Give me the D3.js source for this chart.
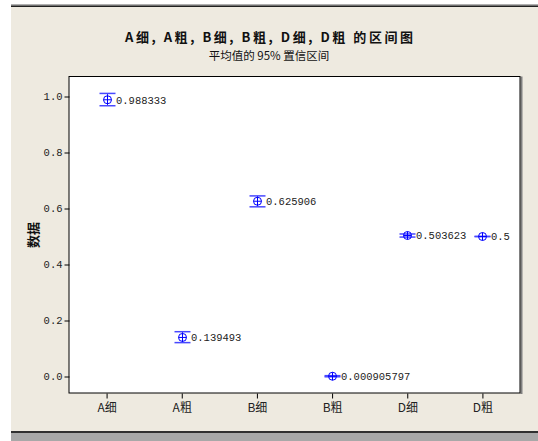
<!DOCTYPE html>
<html><head><meta charset="utf-8">
<script src="https://cdn.jsdelivr.net/npm/d3@7"></script>
<style>body{margin:0;background:#fff}svg{display:block}</style>
</head><body>
<script>
const categories = ["A细","A粗","B细","B粗","D细","D粗"];
const means = [0.988333, 0.139493, 0.625906, 0.000905797, 0.503623, 0.5];
const lower = [0.967, 0.121, 0.606, -0.001, 0.498, 0.5];
const upper = [1.011, 0.160, 0.645, 0.003, 0.509, 0.5];
const meanLabels = ["0.988333","0.139493","0.625906","0.000905797","0.503623","0.5"];
const yTicks = [0.0, 0.2, 0.4, 0.6, 0.8, 1.0];
const title = "A细, A粗, B细, B粗, D细, D粗 的区间图";
const subtitle = "平均值的 95% 置信区间";
const yLabel = "数据";

const W = 538, H = 441;
const svg = d3.select("body").append("svg").attr("width", W).attr("height", H);
svg.append("rect").attr("x",0).attr("y",0).attr("width",W).attr("height",H).attr("fill","#fff");
svg.append("rect").attr("x",11).attr("y",5).attr("width",W-11).attr("height",428).attr("fill","#EEEAE0");
svg.append("rect").attr("x",11).attr("y",4).attr("width",W-11).attr("height",1).attr("fill","#b0b0b0");
svg.append("rect").attr("x",11).attr("y",5).attr("width",W-11).attr("height",1).attr("fill","#707070");
svg.append("rect").attr("x",11).attr("y",6).attr("width",W-11).attr("height",1).attr("fill","#202020");
svg.append("rect").attr("x",11).attr("y",431).attr("width",W-11).attr("height",2).attr("fill","#303030");
svg.append("rect").attr("x",11).attr("y",433).attr("width",W-11).attr("height",8).attr("fill","#A8A8A8");

const L = 69, R = 520, T = 76.5, B = 393;
const x = d3.scaleLinear().domain([0.5, 6.5]).range([L, R]);
const y = d3.scaleLinear().domain([0, 1]).range([376.5, 96.5]);

svg.append("rect").attr("x",L).attr("y",T).attr("width",R-L).attr("height",B-T).attr("fill","#fff");
svg.append("rect").attr("x",R+0.5).attr("y",T).attr("width",2).attr("height",B-T+1).attr("fill","#808080");
svg.append("rect").attr("x",L).attr("y",T).attr("width",R-L).attr("height",B-T)
  .attr("fill","none").attr("stroke","#000").attr("stroke-width",1);

const monoFont = "'Liberation Mono','DejaVu Sans Mono',monospace";
const cjk = "'Noto Sans CJK SC','Noto Sans',sans-serif";

const yAxis = d3.axisLeft(y).tickValues(yTicks).tickFormat(d3.format(".1f")).tickSize(5).tickPadding(2);
const gy = svg.append("g").attr("transform",`translate(${L+0.5},0)`).call(yAxis);
gy.select(".domain").remove();
gy.selectAll("text").attr("font-family",monoFont).attr("font-size","10.5px").attr("fill","#222");
gy.selectAll("line").attr("stroke","#000");

const xAxis = d3.axisBottom(x).tickValues(d3.range(1,7)).tickFormat(i => categories[i-1]).tickSize(5).tickPadding(5);
const gx = svg.append("g").attr("transform",`translate(0,${B+0.5})`).call(xAxis);
gx.select(".domain").remove();
gx.selectAll("text").attr("font-family",cjk).attr("font-size","12px").attr("fill","#222");
gx.selectAll("line").attr("stroke","#000");

const data = categories.map((c,i)=>({i:i+1, m:means[i], lo:lower[i], hi:upper[i], lab:meanLabels[i]}));
const g = svg.append("g");
const capW = 8;
data.forEach(d=>{
  const cx = Math.round(x(d.i))+0.5;
  const yl = y(d.lo), yh = y(d.hi), ym = y(d.m);
  g.append("line").attr("x1",cx).attr("x2",cx).attr("y1",yl).attr("y2",yh).attr("stroke","#2020ff").attr("stroke-width",1);
  g.append("line").attr("x1",cx-capW).attr("x2",cx+capW).attr("y1",yh).attr("y2",yh).attr("stroke","#4848ff").attr("stroke-width",1.5);
  g.append("line").attr("x1",cx-capW).attr("x2",cx+capW).attr("y1",yl).attr("y2",yl).attr("stroke","#4848ff").attr("stroke-width",1.5);
  g.append("circle").attr("cx",cx).attr("cy",ym).attr("r",4).attr("fill","none").attr("stroke","#0000ff").attr("stroke-width",1);
  g.append("line").attr("x1",cx-4).attr("x2",cx+4).attr("y1",ym).attr("y2",ym).attr("stroke","#0000ff").attr("stroke-width",1);
  g.append("line").attr("x1",cx).attr("x2",cx).attr("y1",ym-4).attr("y2",ym+4).attr("stroke","#0000ff").attr("stroke-width",1);
  g.append("text").attr("x",cx+capW+0.5).attr("y",ym).attr("dy","0.36em")
    .attr("font-family",monoFont).attr("font-size","10.5px").attr("fill","#222").text(d.lab);
});

svg.append("text").attr("x",269).attr("y",42).attr("text-anchor","middle")
  .attr("font-family",cjk).attr("font-size","13px").attr("font-weight","bold").attr("fill","#111")
  .attr("textLength",288).attr("lengthAdjust","spacing").text(title);
svg.append("text").attr("x",269).attr("y",59.5).attr("text-anchor","middle")
  .attr("font-family",cjk).attr("font-size","11.5px").attr("fill","#111").text(subtitle);
svg.append("text").attr("transform",`translate(38,235) rotate(-90)`).attr("text-anchor","middle")
  .attr("font-family",cjk).attr("font-size","13px").attr("font-weight","bold").attr("fill","#111").text(yLabel);
</script>
</body></html>
